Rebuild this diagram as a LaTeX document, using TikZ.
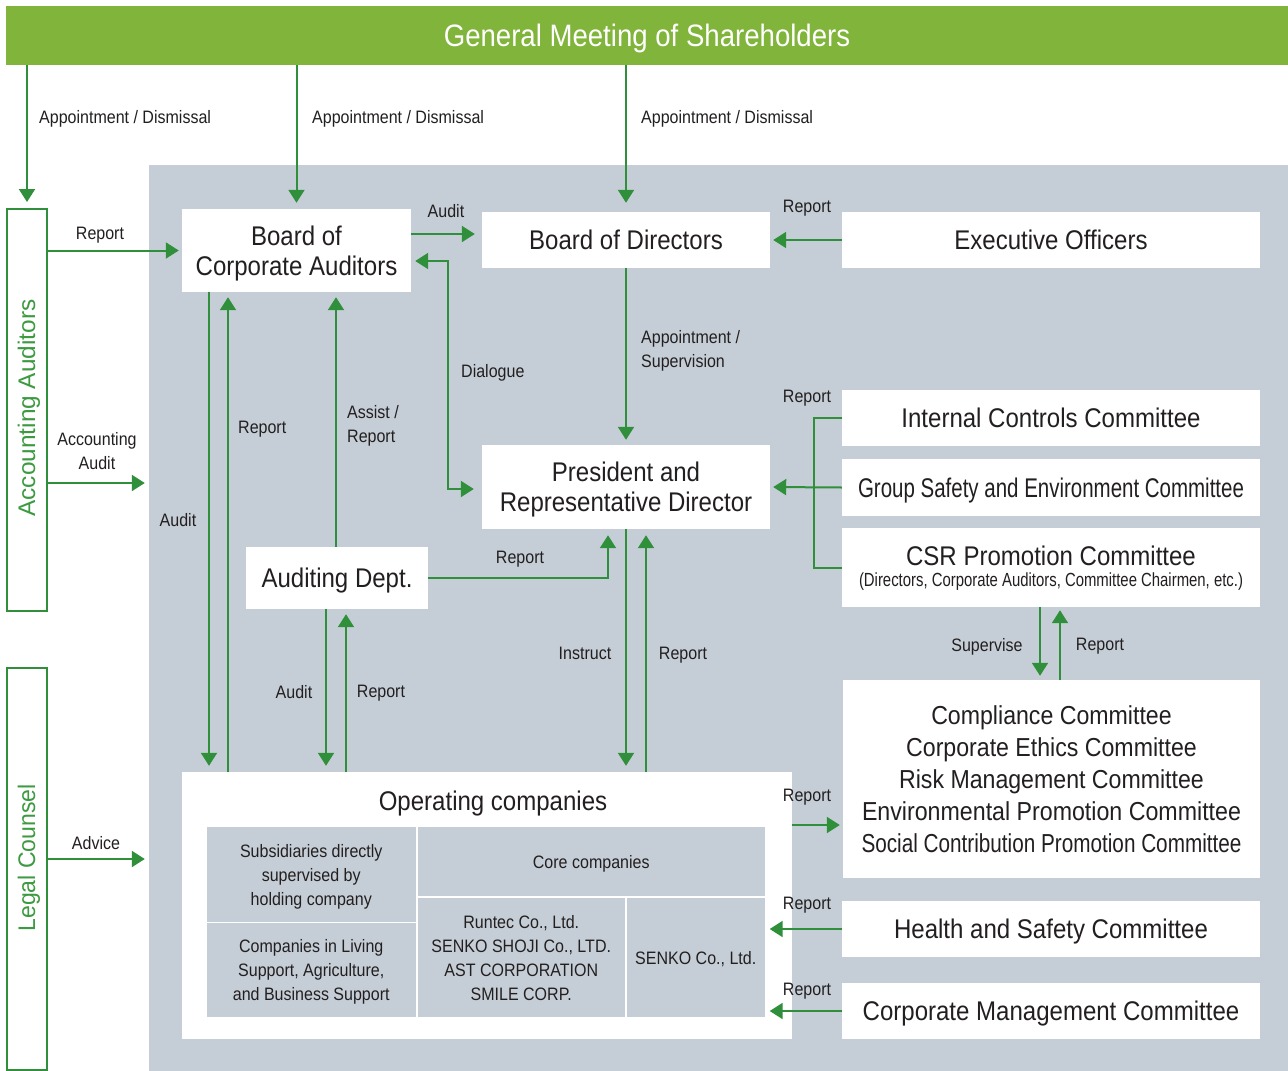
\documentclass[tikz,border=0pt]{standalone}
\usepackage{fontspec}
\setmainfont[FakeStretch=0.89]{Liberation Sans}
\newfontfamily\widesans{Liberation Sans}
\usetikzlibrary{arrows.meta}
\definecolor{barGreen}{HTML}{80B43A}
\definecolor{lineGreen}{HTML}{2F8F3A}
\definecolor{labelGreen}{HTML}{3C9A40}
\definecolor{panelGrey}{HTML}{C5CED6}
\definecolor{ink}{HTML}{231F20}
% squeeze a line of text horizontally to a given width (in pt)
\newlength\fitlen
\newcommand\fitw[2]{\settowidth\fitlen{#2}\pgfmathsetmacro\fitfac{#1/\fitlen}\scalebox{\fitfac}[1]{#2}}
\begin{document}
\begin{tikzpicture}[x=1pt,y=-1pt,
  box/.style={fill=white, inner sep=0, align=center, text=ink, text depth=0pt, font=\fontsize{27}{30}\selectfont},
  cell/.style={fill=panelGrey, inner sep=0, align=center, text=ink, text depth=0pt, font=\fontsize{18}{24}\selectfont},
  lbl/.style={inner sep=0, text=ink, text depth=0pt, font=\fontsize{18}{24}\selectfont},
  side/.style={draw=lineGreen, line width=2pt, fill=white, inner sep=0},
  arr/.style={draw=lineGreen, line width=2pt, -{Triangle[length=13pt,width=16pt]}},
  ln/.style={draw=lineGreen, line width=2pt}]
\useasboundingbox (0,0) rectangle (1288,1071);
\fill[white] (0,0) rectangle (1288,1071);

% top bar and grey panel
\node[fill=barGreen, inner sep=0, minimum width=1282pt, minimum height=59pt, text=white,
      text depth=0pt, font=\fontsize{31}{34}\selectfont] (gm) at (647,35.5) {General Meeting of Shareholders};
\node[fill=panelGrey, inner sep=0, minimum width=1139pt, minimum height=906pt] (panel) at (718.5,618) {};

% side boxes
\node[side, minimum width=40pt, minimum height=402pt] (acc) at (27,410) {};
\node[rotate=90, text=labelGreen, inner sep=0, font=\widesans\fontsize{24}{28}\selectfont] at (29,408) {\fitw{217}{Accounting Auditors}};
\node[side, minimum width=40pt, minimum height=402pt] (legal) at (27,869) {};
\node[rotate=90, text=labelGreen, inner sep=0, font=\widesans\fontsize{24}{28}\selectfont] at (29,858) {\fitw{147}{Legal Counsel}};

% main boxes
\node[box, minimum width=229pt, minimum height=83pt] (boca) at (296.5,250.5) {Board of\\Corporate Auditors};
\node[box, minimum width=288pt, minimum height=56pt] (bod) at (626,240) {Board of Directors};
\node[box, minimum width=418pt, minimum height=56pt] (eo) at (1051,240) {Executive Officers};
\node[box, minimum width=418pt, minimum height=56pt] (icc) at (1051,418) {Internal Controls Committee};
\node[box, minimum width=418pt, minimum height=57pt] (gse) at (1051,487.5) {\fitw{386}{Group Safety and Environment Committee}};
\node[box, minimum width=418pt, minimum height=79pt] (csr) at (1051,567.5) {};
\node[box, anchor=center] at (1051,556) {CSR Promotion Committee};
\node[box, anchor=center, font=\fontsize{19}{22}\selectfont] at (1051,580) {\fitw{384}{(Directors, Corporate Auditors, Committee Chairmen, etc.)}};
\node[box, minimum width=288pt, minimum height=84pt] (pres) at (626,487) {President and\\Representative Director};
\node[box, minimum width=182pt, minimum height=62pt] (aud) at (337,578) {Auditing Dept.};
\node[box, minimum width=417pt, minimum height=198pt, font=\fontsize{26}{32}\selectfont] (comp) at (1051.5,779)
  {Compliance Committee\\Corporate Ethics Committee\\Risk Management Committee\\\fitw{379}{Environmental Promotion Committee}\\\fitw{380}{Social Contribution Promotion Committee}};
\node[box, minimum width=418pt, minimum height=56pt] (hs) at (1051,929) {Health and Safety Committee};
\node[box, minimum width=418pt, minimum height=56pt] (cmc) at (1051,1011) {Corporate Management Committee};

% operating companies and their groups
\node[box, minimum width=610pt, minimum height=267pt] (opco) at (487,905.5) {};
\node[box, anchor=center] at (493,801) {Operating companies};
\node[cell, minimum width=208.5pt, minimum height=95pt] (sub) at (311.25,874.5) {Subsidiaries directly\\supervised by\\holding company};
\node[cell, minimum width=208.5pt, minimum height=94pt] (liv) at (311.25,970) {Companies in Living\\Support, Agriculture,\\and Business Support};
\node[cell, minimum width=346.5pt, minimum height=69pt] (core) at (591.25,861.5) {Core companies};
\node[cell, minimum width=206.5pt, minimum height=119pt] (run) at (521.25,957.5) {Runtec Co., Ltd.\\SENKO SHOJI Co., LTD.\\AST CORPORATION\\SMILE CORP.};
\node[cell, minimum width=137.5pt, minimum height=119pt] (senko) at (695.75,957.5) {SENKO Co., Ltd.};

% appointment / dismissal from the general meeting
\draw[arr, shorten >=6pt] (gm.south -| acc.north) -- (acc.north);
\draw[arr, shorten >=6pt] (gm.south -| boca.north) -- (boca.north);
\draw[arr, shorten >=9pt] (gm.south -| bod.north) -- (bod.north);
\node[lbl, anchor=west] at (39,117) {Appointment / Dismissal};
\node[lbl, anchor=west] at (312,117) {Appointment / Dismissal};
\node[lbl, anchor=west] at (641,117) {Appointment / Dismissal};

% accounting auditors and legal counsel
\draw[arr, shorten >=3pt] (acc.east |- boca.west) -- (boca.west);
\node[lbl] at (100,233) {Report};
\draw[arr, shorten >=4pt] (acc.east |- 0,483) -- (panel.west |- 0,483);
\node[lbl, align=center] at (97,451) {Accounting\\Audit};
\draw[arr, shorten >=4pt] (legal.east |- 0,859) -- (panel.west |- 0,859);
\node[lbl] at (96,843) {Advice};

% corporate auditors and directors
\draw[arr, shorten >=7pt] (boca.east |- 0,234) -- (bod.west |- 0,234);
\node[lbl] at (446,211) {Audit};
\draw[ln, {Triangle[length=13pt,width=16pt]}-{Triangle[length=13pt,width=16pt]}, shorten <=4pt, shorten >=8pt]
  (boca.east |- 0,261) -| (448,489) -- (pres.west |- 0,489);
\node[lbl, anchor=west] at (461,371) {Dialogue};
\draw[arr, shorten >=3pt] (eo.west) -- (bod.east);
\node[lbl] at (807,206) {Report};
\draw[arr, shorten >=5pt] (bod.south) -- (pres.north);
\node[lbl, anchor=west, align=left] at (641,349) {Appointment /\\Supervision};

% committees reporting to the president
\draw[ln] (icc.west) -- ++(-28,0) |- (csr.west);
\draw[arr, shorten >=3pt] (gse.west) -- (pres.east);
\node[lbl] at (807,396) {Report};

% corporate auditors and operating companies
\draw[arr, shorten >=6pt] (boca.south -| 209,0) -- (opco.north -| 209,0);
\draw[arr, shorten >=5pt] (opco.north -| 228,0) -- (boca.south -| 228,0);
\node[lbl] at (178,520) {Audit};
\node[lbl, anchor=west] at (238,427) {Report};

% auditing department
\draw[arr, shorten >=5pt] (aud.north -| 336,0) -- (boca.south -| 336,0);
\node[lbl, anchor=west, align=left] at (347,424) {Assist /\\Report};
\draw[arr, shorten >=6pt] (aud.east) -| (pres.south -| 608,0);
\node[lbl] at (520,557) {Report};
\draw[arr, shorten >=6pt] (aud.south -| 326,0) -- (opco.north -| 326,0);
\draw[arr, shorten >=5pt] (opco.north -| 346,0) -- (aud.south -| 346,0);
\node[lbl] at (294,692) {Audit};
\node[lbl] at (381,691) {Report};

% president and operating companies
\draw[arr, shorten >=6pt] (pres.south) -- (opco.north -| pres.south);
\draw[arr, shorten >=6pt] (opco.north -| 646,0) -- (pres.south -| 646,0);
\node[lbl] at (585,653) {Instruct};
\node[lbl] at (683,653) {Report};

% CSR committee and compliance committees
\draw[arr, shorten >=4pt] (csr.south -| 1040,0) -- (comp.north -| 1040,0);
\draw[arr, shorten >=3pt] (comp.north -| 1060,0) -- (csr.south -| 1060,0);
\node[lbl] at (987,645) {Supervise};
\node[lbl] at (1100,644) {Report};

% reports between operating companies and committees
\draw[arr, shorten >=3pt] (opco.east |- 0,825) -- (comp.west |- 0,825);
\node[lbl] at (807,795) {Report};
\draw[arr, shorten >=5pt] (hs.west) -- (senko.east |- hs.west);
\node[lbl] at (807,903) {Report};
\draw[arr, shorten >=5pt] (cmc.west) -- (senko.east |- cmc.west);
\node[lbl] at (807,989) {Report};
\end{tikzpicture}
\end{document}
